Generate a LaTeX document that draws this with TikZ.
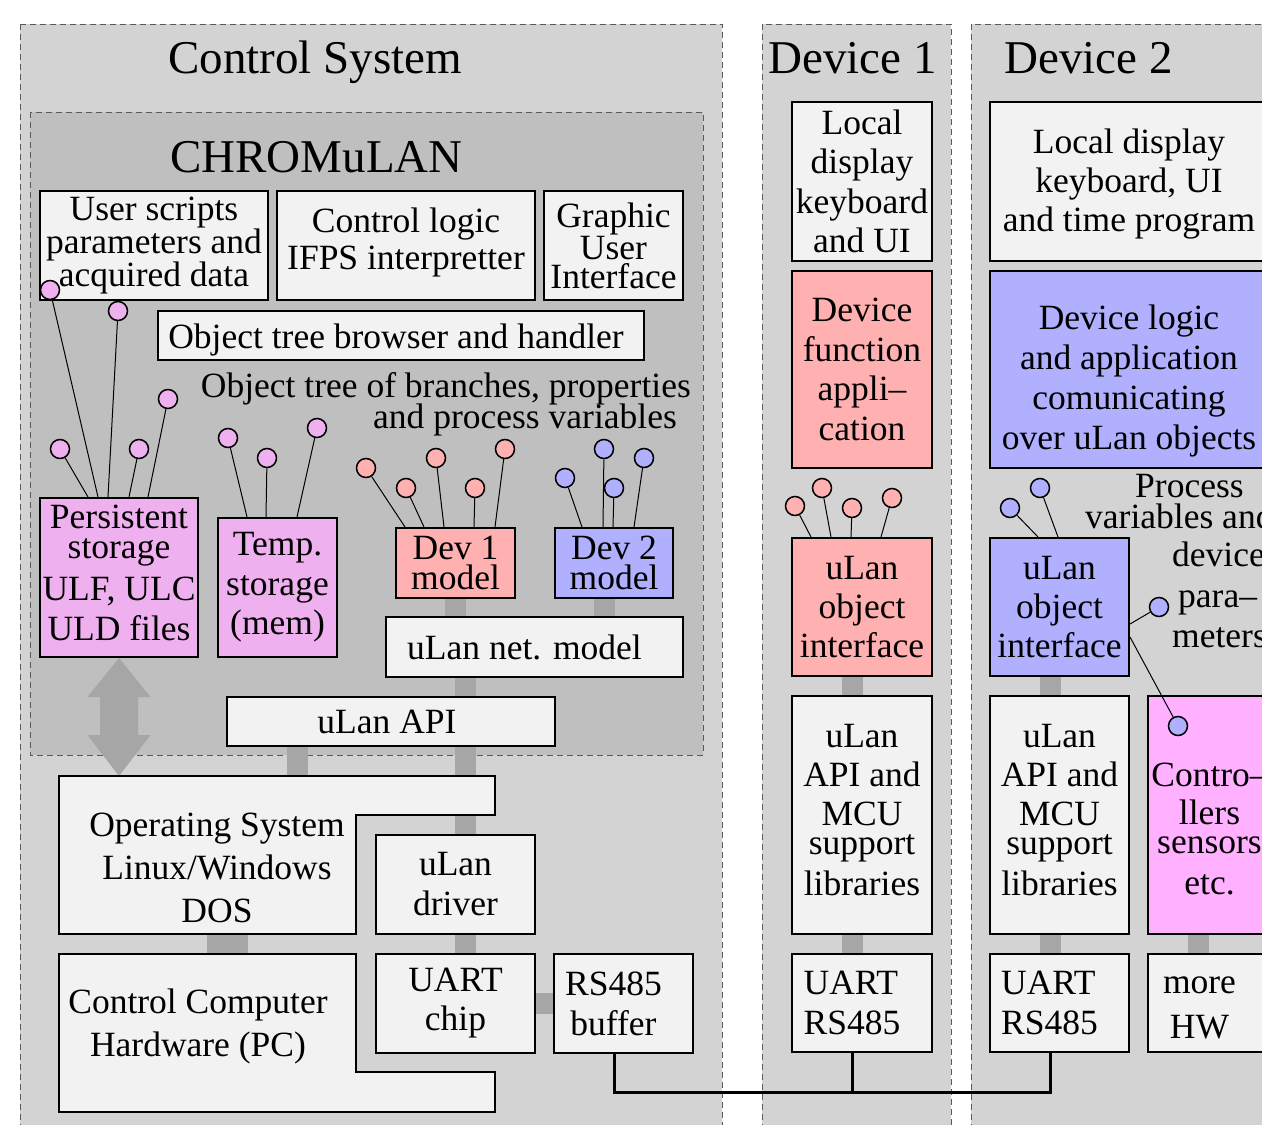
\documentclass[tikz,border=0pt]{standalone}
\usepackage{fontspec}
\setmainfont{Liberation Serif}
\pgfdeclarelayer{back}
\pgfdeclarelayer{mid}
\pgfsetlayers{back,mid,main}
\definecolor{panelgray}{RGB}{211,211,211}
\definecolor{chromgray}{RGB}{191,191,191}
\definecolor{boxfill}{RGB}{242,242,242}
\definecolor{conngray}{RGB}{166,166,166}
\definecolor{pinkc}{RGB}{255,176,176}
\definecolor{bluec}{RGB}{176,176,255}
\definecolor{violc}{RGB}{238,176,238}
\definecolor{magc}{RGB}{255,176,255}
\definecolor{dashc}{RGB}{90,90,90}
\newcommand\titlefont{\fontsize{47}{50}\selectfont}
\newcommand\bfs[1]{\fontsize{35.5}{#1}\selectfont}
\newcommand\xht[1]{\rule{0pt}{#1pt}}
\newcommand\xdp[1]{\rule[-#1pt]{0pt}{#1pt}}
\tikzset{
  panel/.style={draw=dashc, dash pattern=on 6pt off 4pt, line width=1pt, fill=panelgray},
  bx/.style={draw, line width=2pt, fill=boxfill, inner sep=0pt, align=center},
  conn/.style={draw=conngray, line width=21pt},
  lol/.style={circle, draw, line width=1.5pt, minimum size=19pt, inner sep=0pt},
  stem/.style={line width=1pt},
  bus/.style={line width=3pt, line join=miter},
  lbl/.style={inner sep=0pt, font=\bfs{39}},
  ttl/.style={inner sep=0pt, anchor=base west, font=\titlefont}
}
\begin{document}
\begin{tikzpicture}[x=1pt,y=-1pt]
\useasboundingbox (0,0) rectangle (1262,1125);
\begin{pgfonlayer}{back}
  \fill[white] (0,0) rectangle (1262,1125);
  \draw[panel] (20,24) rectangle (722,1140);
  \draw[panel] (762,24) rectangle (951,1140);
  \draw[panel] (971,24) rectangle (1290,1140);
  \draw[panel, fill=chromgray] (30,112) rectangle (703,755);
\end{pgfonlayer}

% titles
\node[ttl] (tcs) at (168,73) {Control System};
\node[ttl] (tchr) at (170,172) {CHROMuLAN};
\node[ttl] (td1) at (768,73) {Device 1};
\node[ttl] (td2) at (1004,73) {Device 2};

% CHROMuLAN boxes
\node[bx, font=\bfs{30}, minimum width=228pt, minimum height=109pt] (us) at (154,245.5) {User scripts\\parameters and\\acquired data};
\node[bx, font=\bfs{37}, minimum width=258pt, minimum height=109pt] (cl) at (406,245.5) {Control logic\\IFPS interpretter\xdp{14}};
\node[bx, font=\bfs{29}, minimum width=139pt, minimum height=109pt] (gui) at (613.5,245.5) {Graphic\\User\\Interface};
\node[bx, font=\bfs{39}, minimum width=486pt, minimum height=49pt] (otb) at (401,335.5) {\xht{34}Object tree browser and handler\kern10pt};
\node[lbl, anchor=base east] (ot1) at (691,397) {Object tree of branches, properties};
\node[lbl, anchor=base east] (ot2) at (677,428) {and process variables};
\node[bx, fill=violc, font=\bfs{30}, minimum width=158pt, minimum height=159pt] (ps) at (119,577.5) {Persistent\\storage\\[10pt]ULF, ULC\\[8pt]ULD files\xdp{10}};
\node[bx, fill=violc, font=\bfs{39.5}, minimum width=119pt, minimum height=139pt] (ts) at (277.5,587.5) {Temp.\\storage\\(mem)};
\node[bx, fill=pinkc, font=\bfs{30}, minimum width=119pt, minimum height=70pt] (d1m) at (455.5,563) {Dev 1\\model};
\node[bx, fill=bluec, font=\bfs{30}, minimum width=118pt, minimum height=70pt] (d2m) at (614,563) {Dev 2\\model};
\node[bx, font=\bfs{39}, minimum width=297pt, minimum height=60pt] (net) at (534.5,647) {uLan net. model\kern20pt};
\node[bx, font=\bfs{39}, minimum width=328pt, minimum height=49pt] (api) at (391,721.5) {uLan API\kern8pt};

% OS and hardware
\draw[line width=2pt, fill=boxfill] (59,776) coordinate (osNW) -- (495,776) -- (495,815) -- (356,815) -- (356,934) -- (59,934) -- cycle;
\draw[line width=2pt, fill=boxfill] (59,954) coordinate (hwNW) -- (356,954) -- (356,1072) -- (495,1072) -- (495,1112) -- (59,1112) -- cycle;
\coordinate (s6) at (227.5,934);
\node[lbl, font=\bfs{43}, align=center] (ostext) at (217,868) {Operating System\\Linux/Windows\\DOS};
\node[lbl, font=\bfs{43}, align=center] (hwtext) at (198,1026) {Control Computer\\Hardware (PC)};
\node[bx, font=\bfs{40}, minimum width=159pt, minimum height=99pt] (drv) at (455.5,884.5) {uLan\\driver};
\node[bx, font=\bfs{39}, minimum width=159pt, minimum height=99pt] (uart) at (455.5,1003.5) {UART\\chip};
\node[bx, font=\bfs{40}, minimum width=139pt, minimum height=99pt] (rs) at (623.5,1003.5) {RS485\kern20pt\\buffer\kern20pt};

% Device 1
\node[bx, font=\bfs{39.5}, minimum width=140pt, minimum height=159pt] (ld1) at (862,181.5) {Local\\display\\keyboard\\and UI};
\node[bx, fill=pinkc, font=\bfs{39.5}, minimum width=140pt, minimum height=197pt] (df1) at (862,369.5) {Device\\function\\appli–\\cation};
\node[bx, fill=pinkc, font=\bfs{39}, minimum width=140pt, minimum height=138pt] (oi1) at (862,607) {uLan\\object\\interface};
\node[bx, font=\bfs{39}, minimum width=140pt, minimum height=238pt] (api1) at (862,815) {uLan\\API and\\MCU\\[-10pt]support\\[2pt]libraries\xdp{11}};
\node[bx, align=left, font=\bfs{40}, minimum width=140pt, minimum height=98pt] (ua1) at (862,1003) {UART\kern20pt\\RS485\kern20pt};

% Device 2
\node[bx, font=\bfs{39}, minimum width=278pt, minimum height=159pt] (ld2) at (1129,181.5) {\xht{30}Local display\\keyboard, UI\\and time program};
\node[bx, fill=bluec, font=\bfs{40}, minimum width=278pt, minimum height=197pt] (dl2) at (1129,369.5) {\xht{48}Device logic\\and application\\comunicating\\over uLan objects};
\node[bx, fill=bluec, font=\bfs{39}, minimum width=139pt, minimum height=138pt] (oi2) at (1059.5,607) {uLan\\object\\interface};
\node[bx, font=\bfs{39}, minimum width=139pt, minimum height=238pt] (api2) at (1059.5,815) {uLan\\API and\\MCU\\[-10pt]support\\[2pt]libraries\xdp{11}};
\node[bx, align=left, font=\bfs{40}, minimum width=139pt, minimum height=98pt] (ua2) at (1059.5,1003) {UART\kern20pt\\RS485\kern20pt};
\node[bx, fill=magc, font=\bfs{38}, minimum width=123pt, minimum height=238pt] (ctl) at (1209.5,815) {\xht{52}Contro–\\llers\\[-9pt]sensors\\[3pt]etc.};
\node[bx, font=\bfs{45}, minimum width=123pt, minimum height=98pt] (hw2) at (1209.5,1003) {\xht{27}more\kern20pt\\HW\kern20pt};

\node[lbl, anchor=base west] (pv1) at (1135,497) {Process};
\node[lbl, anchor=base west] (pv2) at (1085,528) {variables and};
\node[lbl, anchor=base west] (pv3) at (1172,566) {device};
\node[lbl, anchor=base west] (pv4) at (1178,607) {para–};
\node[lbl, anchor=base west] (pv5) at (1172,647) {meters};

% lollipops
\foreach \i/\x/\y/\dx in {1/50/290/59, 2/118/311/69, 3/168/399/109, 4/60/449/49, 5/139/449/90}{
  \node[lol, fill=violc] (pp\i) at (\x,\y) {};
  \draw[stem] (pp\i) -- ([xshift=\dx pt]ps.north west);
}
\foreach \i/\x/\y/\dx in {1/228/438/30, 2/267/458/49, 3/317/428/80}{
  \node[lol, fill=violc] (tp\i) at (\x,\y) {};
  \draw[stem] (tp\i) -- ([xshift=\dx pt]ts.north west);
}
\foreach \i/\x/\y/\dx in {1/366/468/10, 2/406/488/29, 3/436/458/49, 4/475/488/79, 5/505/449/100}{
  \node[lol, fill=pinkc] (ap\i) at (\x,\y) {};
  \draw[stem] (ap\i) -- ([xshift=\dx pt]d1m.north west);
}
\foreach \i/\x/\y/\dx in {1/565/478/28, 2/604/449/49, 3/614/488/59, 4/644/458/80}{
  \node[lol, fill=bluec] (bp\i) at (\x,\y) {};
  \draw[stem] (bp\i) -- ([xshift=\dx pt]d2m.north west);
}
\foreach \i/\x/\y/\dx in {1/795/506/20, 2/822/488/40, 3/852/508/60, 4/892/498/90}{
  \node[lol, fill=pinkc] (cp\i) at (\x,\y) {};
  \draw[stem] (cp\i) -- ([xshift=\dx pt]oi1.north west);
}
\foreach \i/\x/\y/\dx in {1/1010/508/49, 2/1040/488/69}{
  \node[lol, fill=bluec] (dp\i) at (\x,\y) {};
  \draw[stem] (dp\i) -- ([xshift=\dx pt]oi2.north west);
}
\node[lol, fill=bluec] (sv1) at (1159,607) {};
\draw[stem] ([yshift=-87pt]oi2.north east) -- (sv1);
\node[lol, fill=bluec] (sv2) at (1178,726) {};
\draw[stem] ([yshift=-100pt]oi2.north east) -- (sv2);

% connectors
\begin{pgfonlayer}{mid}
  \draw[conn] (d1m.south) -- (d1m.south |- net.north);
  \path ([xshift=-10pt]d2m.south) coordinate (s2);
  \draw[conn] (s2) -- (s2 |- net.north);
  \path ([xshift=-69pt]net.south) coordinate (s3);
  \draw[conn] (s3) -- (s3 |- api.north);
  \path ([xshift=-93.5pt]api.south) coordinate (s4);
  \draw[conn] (s4) -- (s4 |- osNW);
  \path ([xshift=74.5pt]api.south) coordinate (s5);
  \draw[conn] (s5) -- (s5 |- drv.north);
  \draw[conn, line width=41pt] (s6) -- (s6 |- hwNW);
  \path ([xshift=10pt]drv.south) coordinate (s7);
  \draw[conn] (s7) -- (s7 |- uart.north);
  \draw[conn] (uart.east) -- (rs.west);
  \path ([xshift=-9.5pt]oi1.south) coordinate (s8);
  \draw[conn] (s8) -- (s8 |- ua1.north);
  \path ([xshift=-9.5pt]oi2.south) coordinate (s9);
  \draw[conn] (s9) -- (s9 |- ua2.north);
  \path ([xshift=-11pt]ctl.south) coordinate (s10);
  \draw[conn] (s10) -- (s10 |- hw2.north);
  \fill[conngray] (ps.south) -- ++(31.5,39) -- ++(-12.5,0) -- ++(0,38) -- ++(12.5,0)
     -- (ps.south |- osNW) -- ++(-31.5,-41) -- ++(12.5,0) -- ++(0,-38) -- ++(-12.5,0) -- cycle;
\end{pgfonlayer}

% bus
\coordinate (busy) at (0,1092);
\path ([xshift=-9.5pt]rs.south) coordinate (b1) ([xshift=-9.5pt]ua1.south) coordinate (b2) ([xshift=-9.5pt]ua2.south) coordinate (b3);
\draw[bus] (b1) |- (b3 |- busy) -- (b3);
\draw[bus] (b2) -- (b2 |- busy);
\end{tikzpicture}
\end{document}
